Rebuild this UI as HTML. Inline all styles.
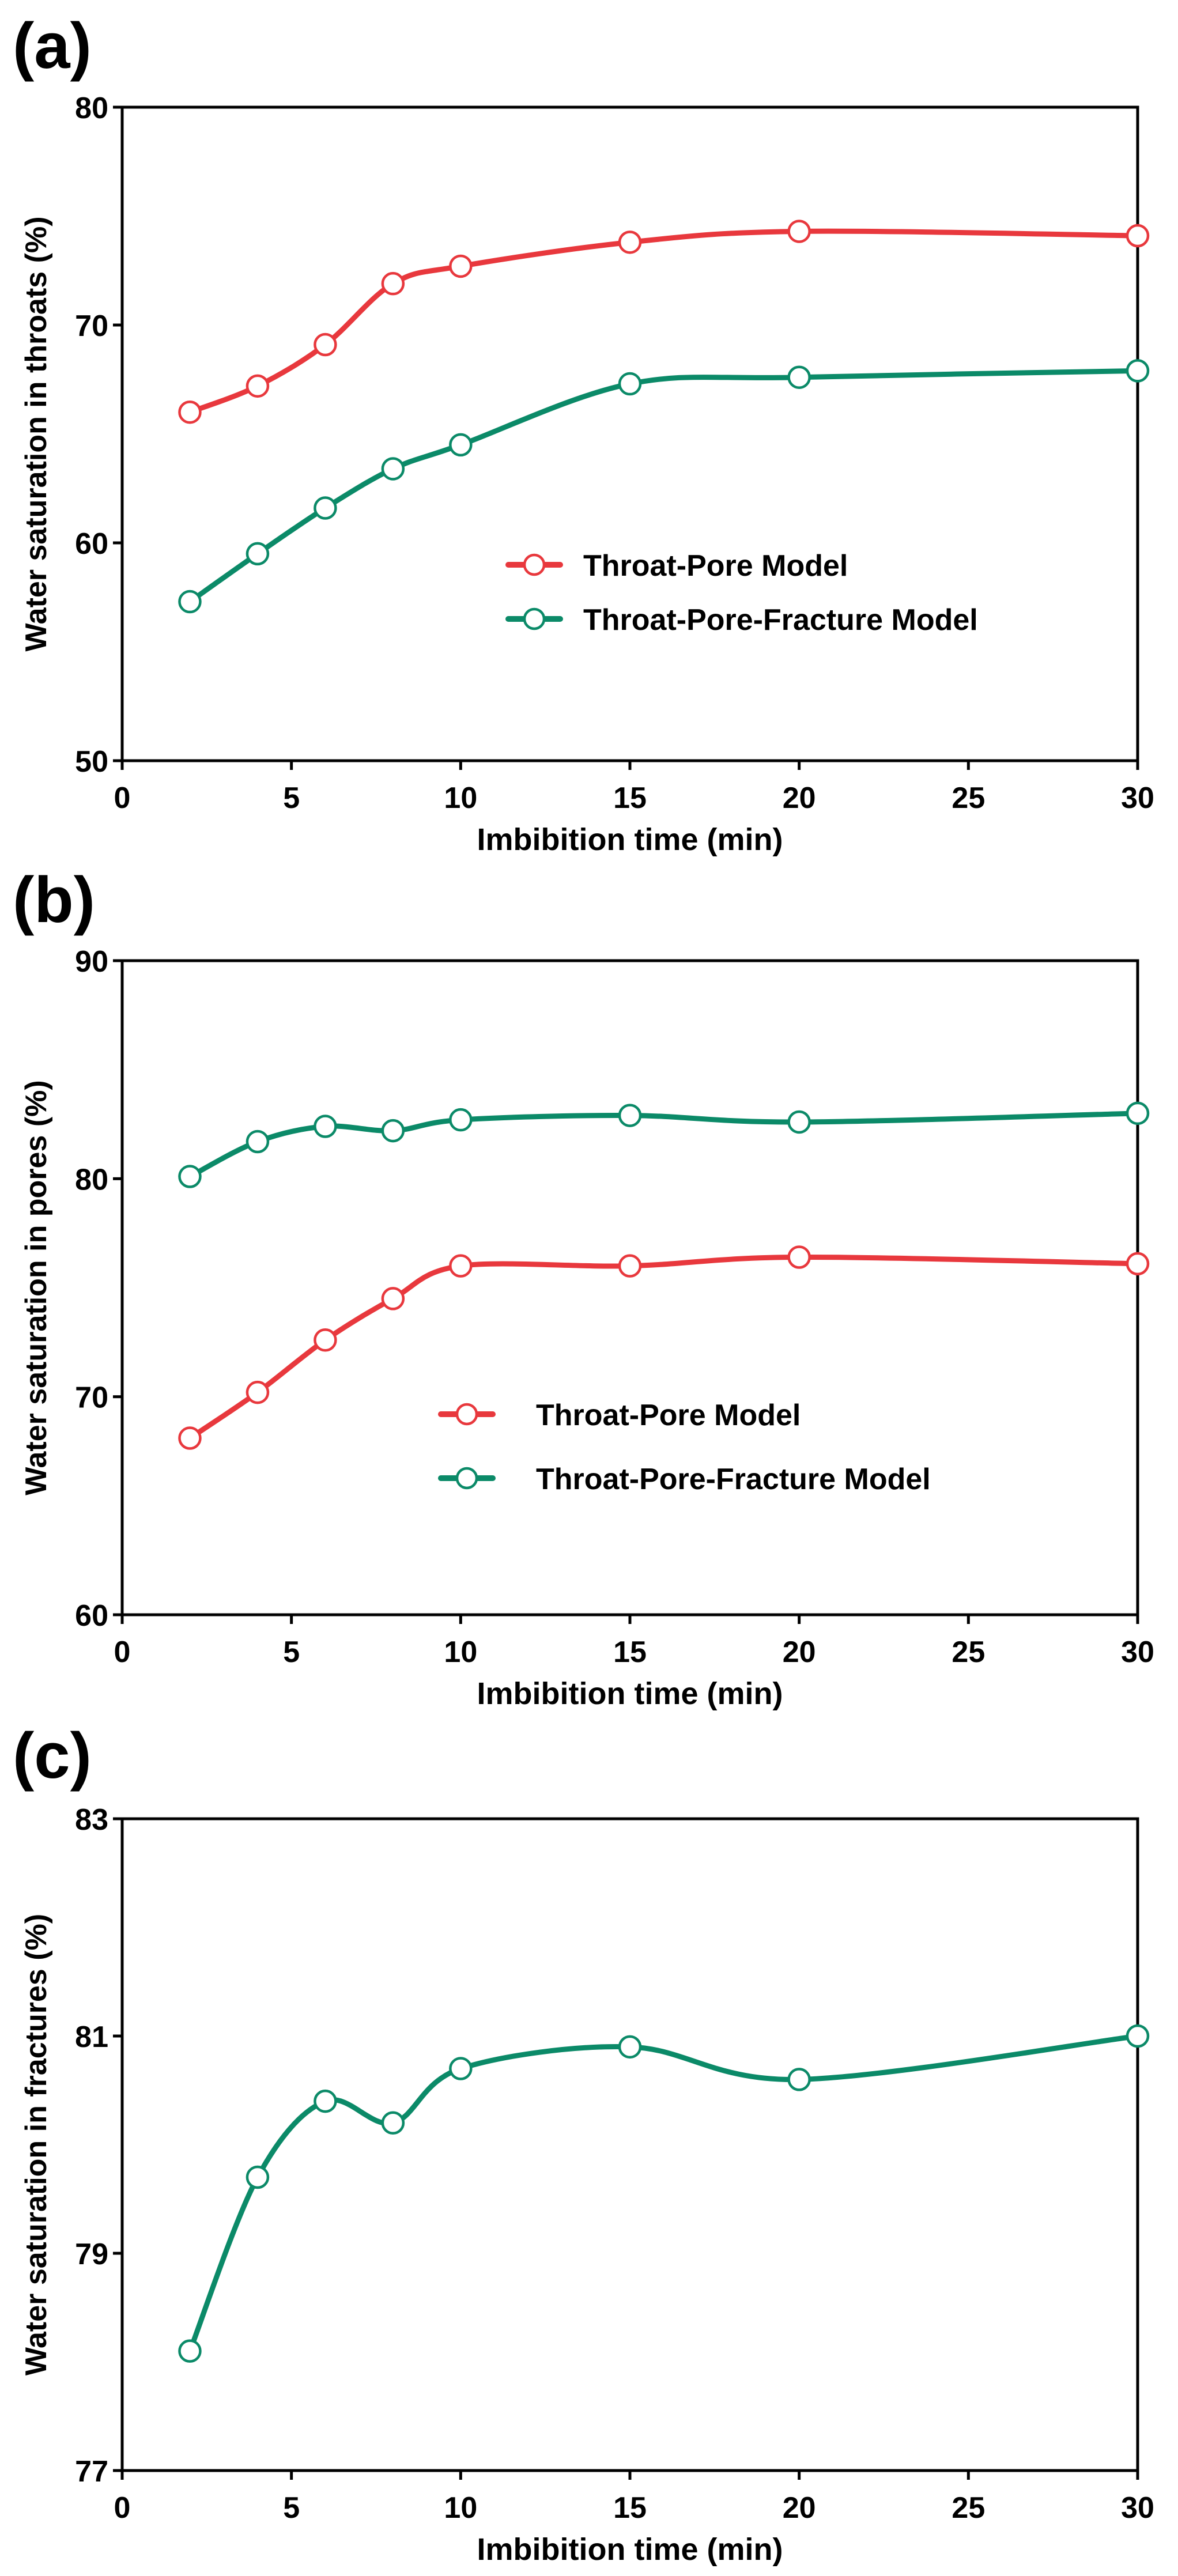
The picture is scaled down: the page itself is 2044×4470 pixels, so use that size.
<!DOCTYPE html>
<html><head><meta charset="utf-8"><style>
html,body{margin:0;padding:0;background:#fff}
svg{display:block}
text{font-family:"Liberation Sans",Arial,sans-serif;font-weight:bold;fill:#000}
</style></head>
<body>
<svg id="fig" width="2044" height="4470" viewBox="0 0 2044 4470" xmlns="http://www.w3.org/2000/svg"></svg>
<script>
const xTimes = [2, 4, 6, 8, 10, 15, 20, 30];
const xTicks = [0, 5, 10, 15, 20, 25, 30];
const aRed = [66.0, 67.2, 69.1, 71.9, 72.7, 73.8, 74.3, 74.1];
const aGreen = [57.3, 59.5, 61.6, 63.4, 64.5, 67.3, 67.6, 67.9];
const aTicks = [50, 60, 70, 80];
const bRed = [68.1, 70.2, 72.6, 74.5, 76.0, 76.0, 76.4, 76.1];
const bGreen = [80.1, 81.7, 82.4, 82.2, 82.7, 82.9, 82.6, 83.0];
const bTicks = [60, 70, 80, 90];
const cGreen = [78.1, 79.7, 80.4, 80.2, 80.7, 80.9, 80.6, 81.0];
const cTicks = [77, 79, 81, 83];

const RED = '#e8383d', GREEN = '#0b8a68';
const NS = 'http://www.w3.org/2000/svg';
const svg = document.getElementById('fig');
function mk(tag, attrs, parent) {
  const e = document.createElementNS(NS, tag);
  for (const k in attrs) e.setAttribute(k, attrs[k]);
  (parent || svg).appendChild(e);
  return e;
}
function spline(pts) {
  let d = 'M' + pts[0][0] + ',' + pts[0][1];
  for (let i = 0; i < pts.length - 1; i++) {
    const p0 = pts[Math.max(i - 1, 0)], p1 = pts[i], p2 = pts[i + 1], p3 = pts[Math.min(i + 2, pts.length - 1)];
    const t = 0.5 / 3 * 2;
    const c1 = [p1[0] + (p2[0] - p0[0]) * t / 2, p1[1] + (p2[1] - p0[1]) * t / 2];
    const c2 = [p2[0] - (p3[0] - p1[0]) * t / 2, p2[1] - (p3[1] - p1[1]) * t / 2];
    d += ' C' + c1.join(',') + ' ' + c2.join(',') + ' ' + p2.join(',');
  }
  return d;
}
const L = 212, R = 1974;
function panel(cfg) {
  const g = mk('g', {});
  
  
  const T = cfg.top, B = cfg.bottom;
  const ymin = cfg.ticks[0], ymax = cfg.ticks[cfg.ticks.length - 1];
  const sx = v => L + (v - 0) / 30 * (R - L);
  const sy = v => B - (v - ymin) / (ymax - ymin) * (B - T);
  const lab = mk('text', {x: 22, y: cfg.labelY, 'font-size': 112}, g);
  lab.textContent = cfg.label;
  
  
  const frame = mk('rect', {x: L, y: T, width: R - L, height: B - T, fill: 'none', stroke: '#000', 'stroke-width': 5}, g);
  
  
  cfg.ticks.forEach(v => {
    mk('line', {x1: L - 16, x2: L, y1: sy(v), y2: sy(v), stroke: '#000', 'stroke-width': 5}, g);
    const t = mk('text', {x: 188, y: sy(v) + 19, 'font-size': 52, 'text-anchor': 'end'}, g);
    t.textContent = v;
    
    
  });
  xTicks.forEach(v => {
    mk('line', {x1: sx(v), x2: sx(v), y1: B, y2: B + 16, stroke: '#000', 'stroke-width': 5}, g);
    const t = mk('text', {x: sx(v), y: B + 82, 'font-size': 52, 'text-anchor': 'middle'}, g);
    t.textContent = v;
    
    
  });
  const xt = mk('text', {x: (L + R) / 2, y: B + 155, 'font-size': 54, 'text-anchor': 'middle'}, g);
  xt.textContent = 'Imbibition time (min)';
  
  
  const cy = (T + B) / 2;
  const yt = mk('text', {x: 0, y: 0, 'font-size': 52, 'text-anchor': 'middle', transform: 'translate(80,' + cy + ') rotate(-90)'}, g);
  yt.textContent = cfg.ytitle;
  
  
  cfg.series.forEach(s => {
    const pts = xTimes.map((x, i) => [sx(x), sy(s.values[i])]);
    const p = mk('path', {d: spline(pts), fill: 'none', stroke: s.color, 'stroke-width': 9, 'stroke-linecap': 'round'}, g);
    
    
    pts.forEach(pt => {
      const c = mk('circle', {cx: pt[0], cy: pt[1], r: 18, fill: '#fff', stroke: s.color, 'stroke-width': 4.5}, g);
      
      
    });
  });
  if (cfg.legend) {
    cfg.series.forEach((s, i) => {
      const y = cfg.legend.y[i];
      const lg = mk('g', {}, g);
      
      
      mk('line', {x1: cfg.legend.x1, x2: cfg.legend.x2, y1: y, y2: y, stroke: s.color, 'stroke-width': 10, 'stroke-linecap': 'round'}, lg);
      mk('circle', {cx: (cfg.legend.x1 + cfg.legend.x2) / 2, cy: y, r: 17, fill: '#fff', stroke: s.color, 'stroke-width': 4.5}, lg);
      const t = mk('text', {x: cfg.legend.tx, y: y + 19, 'font-size': 52}, lg);
      t.textContent = s.label;
    });
  }
}
panel({name: 'panel-a', label: '(a)', labelY: 118, top: 186, bottom: 1320, ticks: aTicks,
  ytitle: 'Water saturation in throats (%)',
  series: [{name: 'throat-pore', label: 'Throat-Pore Model', color: RED, values: aRed},
           {name: 'throat-pore-fracture', label: 'Throat-Pore-Fracture Model', color: GREEN, values: aGreen}],
  legend: {x1: 882, x2: 972, tx: 1012, y: [980, 1074]}});
panel({name: 'panel-b', label: '(b)', labelY: 1600, top: 1667, bottom: 2802, ticks: bTicks,
  ytitle: 'Water saturation in pores (%)',
  series: [{name: 'throat-pore', label: 'Throat-Pore Model', color: RED, values: bRed},
           {name: 'throat-pore-fracture', label: 'Throat-Pore-Fracture Model', color: GREEN, values: bGreen}],
  legend: {x1: 765, x2: 855, tx: 930, y: [2454, 2565]}});
panel({name: 'panel-c', label: '(c)', labelY: 3085, top: 3156, bottom: 4287, ticks: cTicks,
  ytitle: 'Water saturation in fractures (%)',
  series: [{name: 'throat-pore-fracture', label: 'Throat-Pore-Fracture Model', color: GREEN, values: cGreen}],
  legend: null});
</script>
</body></html>
